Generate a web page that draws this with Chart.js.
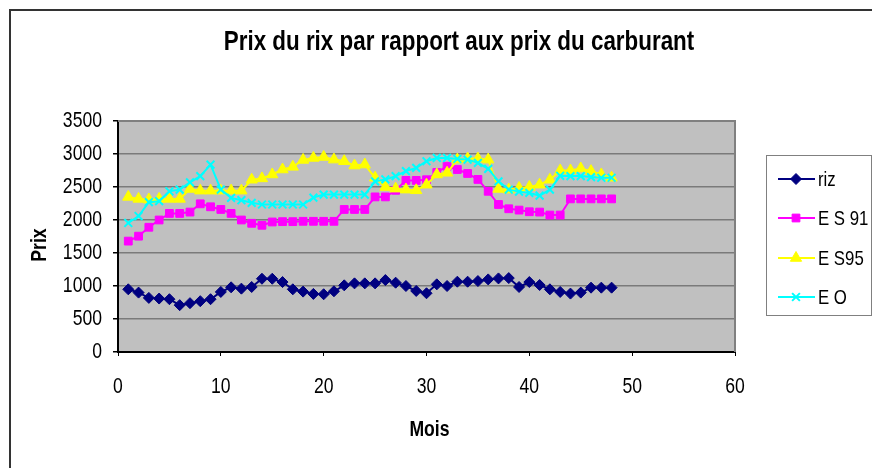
<!DOCTYPE html>
<html>
<head>
<meta charset="utf-8">
<script src="https://cdn.jsdelivr.net/npm/chart.js@4"></script>
<style>
  html, body { margin: 0; padding: 0; background: #fff; }
  #wrap { width: 872px; height: 468px; position: relative; }
</style>
</head>
<body>
<div id="wrap"><canvas id="prixChart" width="872" height="468"></canvas></div>
<script>
// mois (axe X)
var mois = [1, 2, 3, 4, 5, 6, 7, 8, 9, 10, 11, 12, 13, 14, 15, 16, 17, 18, 19, 20, 21, 22, 23, 24,
    25, 26, 27, 28, 29, 30, 31, 32, 33, 34, 35, 36, 37, 38, 39, 40, 41, 42, 43, 44, 45, 46, 47, 48];

// prix
var riz = [950, 900, 820, 810, 800, 710, 740, 770, 800, 910, 980, 960, 985, 1110, 1110, 1060, 950, 915, 880, 875, 920, 1010, 1040, 1040,
    1040, 1090, 1050, 1000, 925, 890, 1025, 1000, 1065, 1065, 1075, 1100, 1115, 1120, 985, 1060, 1015, 950, 910, 885, 900, 975, 975, 975];
var es91 = [1680, 1755, 1890, 2000, 2100, 2100, 2120, 2245, 2200, 2160, 2100, 2000, 1950, 1920, 1970, 1975, 1975, 1980, 1980, 1980, 1980, 2160, 2160, 2160,
    2350, 2350, 2450, 2600, 2600, 2610, 2720, 2815, 2765, 2705, 2615, 2435, 2235, 2170, 2150, 2125, 2120, 2075, 2075, 2320, 2320, 2320, 2320, 2320];
var es95 = [2350, 2320, 2310, 2320, 2320, 2320, 2470, 2445, 2445, 2445, 2445, 2445, 2610, 2630, 2690, 2765, 2805, 2910, 2940, 2955, 2915, 2890, 2825, 2840,
    2640, 2500, 2475, 2460, 2450, 2535, 2690, 2715, 2915, 2930, 2930, 2915, 2470, 2460, 2485, 2500, 2535, 2610, 2750, 2750, 2780, 2740, 2690, 2640];
var eo = [1955, 2060, 2270, 2285, 2435, 2460, 2570, 2665, 2840, 2460, 2335, 2300, 2260, 2235, 2235, 2235, 2235, 2235, 2340, 2385, 2385, 2385, 2385, 2385,
    2585, 2615, 2665, 2740, 2790, 2890, 2940, 2940, 2925, 2915, 2865, 2775, 2585, 2460, 2430, 2410, 2370, 2460, 2670, 2665, 2665, 2650, 2640, 2640];

var serieNoms = ['riz', 'E S 91', 'E S95', 'E O'];
var serieValeurs = [riz, es91, es95, eo];
var serieCouleurs = ['#000080', '#ff00ff', '#ffff00', '#00ffff'];
var serieMarques = ['rectRot', 'rect', 'triangle', 'crossRot'];
var serieTailles = [5.5, 5.5, 6.5, 5.5];

var xTicks = [0, 10, 20, 30, 40, 50, 60];
var yTicks = [0, 500, 1000, 1500, 2000, 2500, 3000, 3500];

var titre = 'Prix du rix par rapport aux prix du carburant';
var titreX = 'Mois';
var titreY = 'Prix';
var FONT = '"Liberation Sans", Arial, sans-serif';
var NARROW = 0.8; // police étroite (Arial Narrow) simulée

//points {x, y}
function toPoints(vals) {
    var pts = [];
    for (var i = 0; i < mois.length; i++) {
        pts.push({ x: mois[i], y: vals[i] });
    }
    return pts;
}

//texte étroit
function narrowText(ctx, text, x, y, align, font, rot) {
    ctx.save();
    ctx.translate(x, y);
    if (rot) ctx.rotate(rot);
    ctx.scale(NARROW, 1);
    ctx.font = font;
    ctx.fillStyle = '#000';
    ctx.textAlign = align;
    ctx.textBaseline = 'middle';
    ctx.fillText(text, 0, 0);
    ctx.restore();
}

var datasets = [];
for (var i = 0; i < serieNoms.length; i++) {
    datasets.push({
        label: serieNoms[i],
        data: toPoints(serieValeurs[i]),
        showLine: true,
        borderColor: serieCouleurs[i],
        backgroundColor: serieCouleurs[i],
        borderWidth: 2,
        pointStyle: serieMarques[i],
        pointRadius: serieTailles[i],
        pointBorderWidth: serieMarques[i] == 'crossRot' ? 2 : 1,
        order: serieNoms.length - i
    });
}

// fond gris, cadre, titres, étiquettes, légende
var excelLook = {
    id: 'excelLook',
    beforeDraw: function (chart) {
        var ctx = chart.ctx;
        var a = chart.chartArea;
        ctx.save();
        ctx.fillStyle = '#ffffff';
        ctx.fillRect(0, 0, chart.width, chart.height);
        // cadre extérieur
        ctx.strokeStyle = '#333333';
        ctx.lineWidth = 2;
        ctx.strokeRect(10, 10, 900, 500);
        // zone de tracé
        ctx.fillStyle = '#c0c0c0';
        ctx.fillRect(a.left, a.top, a.right - a.left, a.bottom - a.top);
        ctx.restore();
    },
    beforeDatasetsDraw: function (chart) {
        var ctx = chart.ctx;
        var a = chart.chartArea;
        ctx.save();
        ctx.strokeStyle = '#808080';
        ctx.lineWidth = 2;
        ctx.beginPath();
        ctx.moveTo(a.left, a.top);
        ctx.lineTo(a.right, a.top);
        ctx.lineTo(a.right, a.bottom);
        ctx.stroke();
        ctx.restore();
    },
    afterDraw: function (chart) {
        var ctx = chart.ctx;
        var xs = chart.scales.x;
        var ys = chart.scales.y;

        // titre
        narrowText(ctx, titre, 459, 42, 'center', 'bold 28px ' + FONT);

        // étiquettes des axes
        for (var i = 0; i < xTicks.length; i++) {
            narrowText(ctx, String(xTicks[i]), xs.getPixelForValue(xTicks[i]), 387, 'center', '22px ' + FONT);
        }
        for (var j = 0; j < yTicks.length; j++) {
            narrowText(ctx, String(yTicks[j]), 102, ys.getPixelForValue(yTicks[j]), 'right', '22px ' + FONT);
        }
        narrowText(ctx, titreX, (xs.left + xs.right) / 2 + 3, 430, 'center', 'bold 22px ' + FONT);
        narrowText(ctx, titreY, 40, 245, 'center', 'bold 22px ' + FONT, -Math.PI / 2);

        // légende
        ctx.save();
        ctx.strokeStyle = '#808080';
        ctx.lineWidth = 1;
        ctx.strokeRect(766.5, 155.5, 105, 160);
        var rows = [179, 218, 258, 297];
        for (var k = 0; k < serieNoms.length; k++) {
            var y = rows[k];
            ctx.strokeStyle = serieCouleurs[k];
            ctx.fillStyle = serieCouleurs[k];
            ctx.lineWidth = 2;
            ctx.beginPath();
            ctx.moveTo(778, y);
            ctx.lineTo(815, y);
            ctx.stroke();
            ctx.lineWidth = serieMarques[k] == 'crossRot' ? 2 : 1;
            Chart.helpers.drawPoint(ctx, {
                pointStyle: serieMarques[k],
                radius: serieTailles[k],
                borderWidth: ctx.lineWidth,
                rotation: 0
            }, 796, y);
            narrowText(ctx, serieNoms[k], 818, y + 1, 'left', '21px ' + FONT);
        }
        ctx.restore();
    }
};

var config = {
    type: 'scatter',
    data: { datasets: datasets },
    options: {
        responsive: false,
        animation: false,
        layout: {
            padding: { left: 12, top: 121, right: 137, bottom: 10 }
        },
        plugins: {
            legend: { display: false },
            title: { display: false },
            tooltip: { enabled: false }
        },
        scales: {
            x: {
                type: 'linear',
                min: 0,
                max: 60,
                afterFit: function (scale) { scale.height = 106; },
                afterBuildTicks: function (scale) {
                    scale.ticks = xTicks.map(function (v) { return { value: v }; });
                },
                grid: {
                    drawOnChartArea: false,
                    drawTicks: true,
                    tickLength: 4,
                    tickColor: '#000'
                },
                border: { color: '#000', width: 2 },
                ticks: { display: false }
            },
            y: {
                type: 'linear',
                min: 0,
                max: 3500,
                afterFit: function (scale) { scale.width = 106; },
                afterBuildTicks: function (scale) {
                    scale.ticks = yTicks.map(function (v) { return { value: v }; });
                },
                grid: {
                    color: '#7a7a7a',
                    lineWidth: 1.5,
                    drawTicks: true,
                    tickLength: 5,
                    tickColor: '#000'
                },
                border: { color: '#000', width: 2 },
                ticks: { display: false }
            }
        }
    },
    plugins: [excelLook]
};

//グラフ作成
var prixChart = new Chart(document.getElementById('prixChart'), config);
</script>
</body>
</html>
